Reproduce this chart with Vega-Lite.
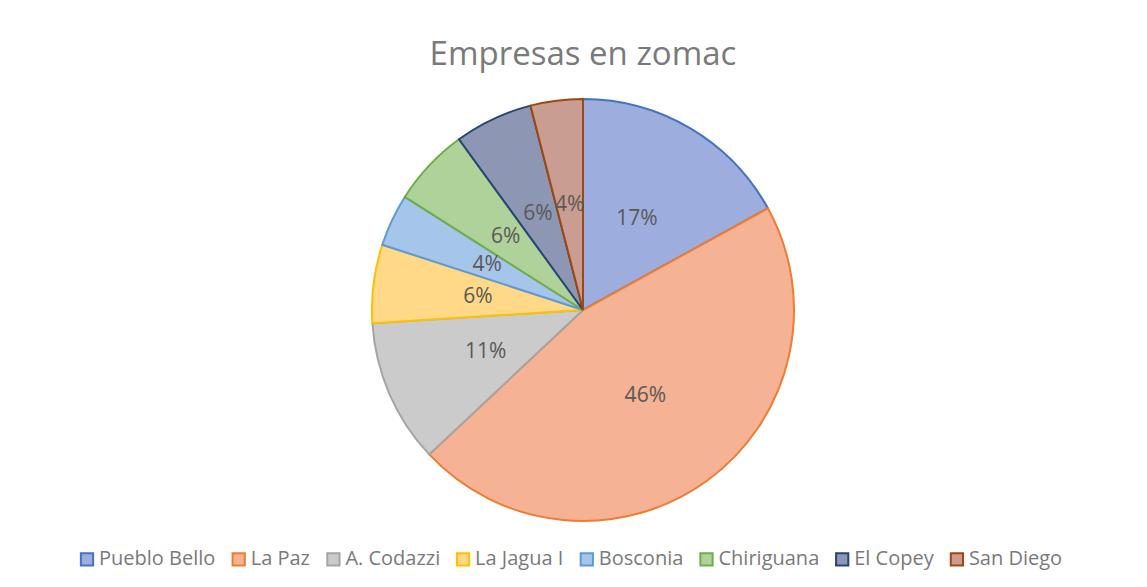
{
  "$schema": "https://vega.github.io/schema/vega-lite/v6.json",
  "width": 422,
  "height": 422,
  "autosize": "none",
  "padding": {"left": 372, "top": 99, "right": 353, "bottom": 66},
  "background": "white",
  "config": {"view": {"stroke": null}},
  "title": {
    "text": "Empresas en zomac",
    "font": "Open Sans",
    "fontSize": 33,
    "fontWeight": "normal",
    "color": "#7a7a7a",
    "anchor": "middle",
    "baseline": "alphabetic",
    "offset": -3
  },
  "data": {
    "values": [
      {"municipio": "Pueblo Bello", "pct": 17, "order": 1, "label": "17%"},
      {"municipio": "La Paz", "pct": 46, "order": 2, "label": "46%"},
      {"municipio": "A. Codazzi", "pct": 11, "order": 3, "label": "11%"},
      {"municipio": "La Jagua I", "pct": 6, "order": 4, "label": "6%"},
      {"municipio": "Bosconia", "pct": 4, "order": 5, "label": "4%"},
      {"municipio": "Chiriguana", "pct": 6, "order": 6, "label": "6%"},
      {"municipio": "El Copey", "pct": 6, "order": 7, "label": "6%"},
      {"municipio": "San Diego", "pct": 4, "order": 8, "label": "4%"}
    ]
  },
  "encoding": {
    "theta": {"field": "pct", "type": "quantitative", "stack": true},
    "order": {"field": "order", "type": "quantitative"}
  },
  "layer": [
    {
      "mark": {"type": "arc", "outerRadius": 211, "strokeWidth": 2},
      "encoding": {
        "fill": {
          "field": "municipio",
          "type": "nominal",
          "scale": {
            "domain": ["Pueblo Bello", "La Paz", "A. Codazzi", "La Jagua I", "Bosconia", "Chiriguana", "El Copey", "San Diego"],
            "range": ["#9DAEDE", "#F5B294", "#CBCBCB", "#FFD987", "#A6C5EA", "#AFD29B", "#8D97B4", "#C99D91"]
          },
          "legend": {
            "title": null,
            "orient": "none",
            "legendX": -295,
            "legendY": 450,
            "direction": "horizontal",
            "columns": 8,
            "columnPadding": 11.7,
            "symbolType": "square",
            "symbolSize": 150,
            "symbolStrokeWidth": 2,
            "symbolOpacity": 1,
            "labelFont": "Open Sans",
            "labelFontSize": 20,
            "labelColor": "#7a7a7a",
            "labelOffset": 2,
            "labelLimit": 300
          }
        },
        "stroke": {
          "field": "municipio",
          "type": "nominal",
          "scale": {
            "domain": ["Pueblo Bello", "La Paz", "A. Codazzi", "La Jagua I", "Bosconia", "Chiriguana", "El Copey", "San Diego"],
            "range": ["#4472C4", "#ED7D31", "#A5A5A5", "#FFC000", "#5B9BD5", "#70AD47", "#264478", "#9E480E"]
          },
          "legend": {
            "title": null,
            "orient": "none",
            "legendX": -295,
            "legendY": 450,
            "direction": "horizontal",
            "columns": 8,
            "columnPadding": 11.7,
            "symbolType": "square",
            "symbolSize": 150,
            "symbolStrokeWidth": 2,
            "labelFont": "Open Sans",
            "labelFontSize": 20,
            "labelColor": "#7a7a7a",
            "labelOffset": 2,
            "labelLimit": 300
          }
        }
      }
    },
    {
      "mark": {"type": "text", "radius": 106, "font": "Open Sans", "fontSize": 21, "color": "#595959"},
      "encoding": {
        "text": {"field": "label", "type": "nominal"}
      }
    }
  ]
}
